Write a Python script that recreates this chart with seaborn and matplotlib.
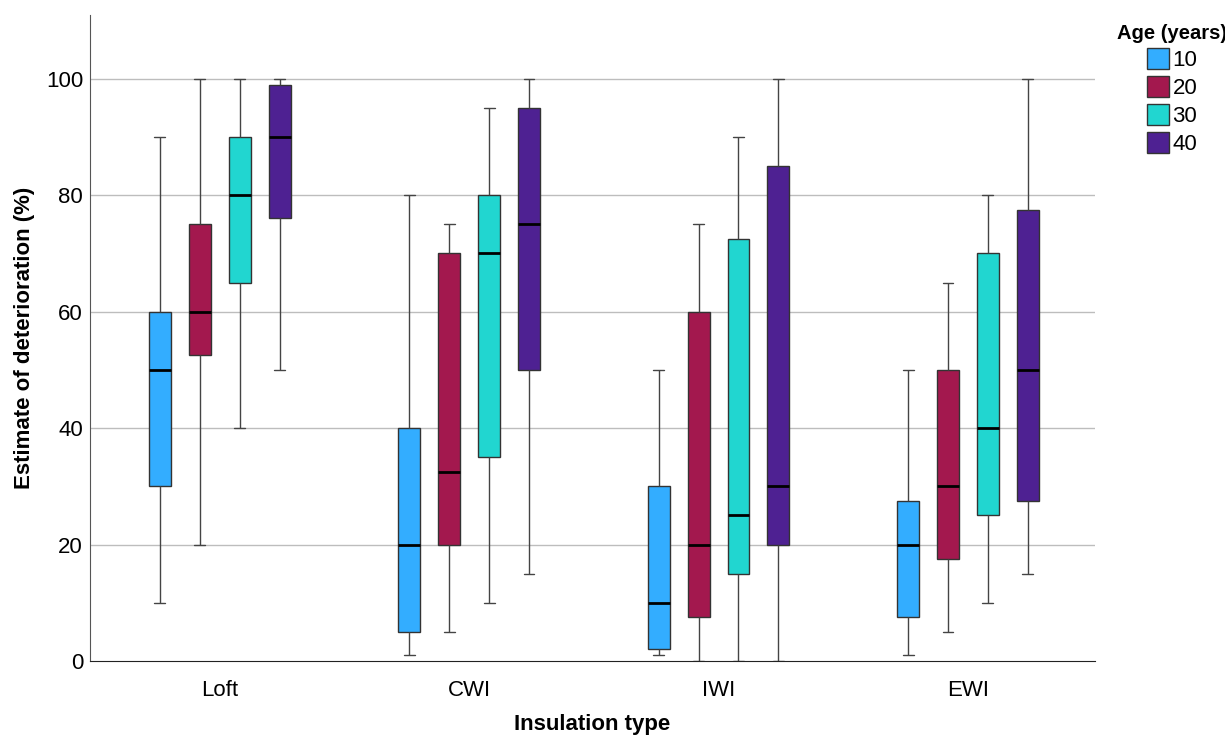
import numpy as np
import pandas as pd
import matplotlib
matplotlib.use("Agg")
import matplotlib.pyplot as plt
import seaborn as sns

# five-number summaries (min, q1, median, q3, max) per insulation type
insulation = ["Loft", "CWI", "IWI", "EWI"]
ages = ["10", "20", "30", "40"]

age10 = [[10, 30, 50, 60, 90], [1, 5, 20, 40, 80], [1, 2, 10, 30, 50], [1, 7.5, 20, 27.5, 50]]
age20 = [[20, 52.5, 60, 75, 100], [5, 20, 32.5, 70, 75], [0, 7.5, 20, 60, 75], [5, 17.5, 30, 50, 65]]
age30 = [[40, 65, 80, 90, 100], [10, 35, 70, 80, 95], [0, 15, 25, 72.5, 90], [10, 25, 40, 70, 80]]
age40 = [[50, 76, 90, 99, 100], [15, 50, 75, 95, 100], [0, 20, 30, 85, 100], [15, 27.5, 50, 77.5, 100]]

palette = ["#33adff", "#a3184e", "#21d6d0", "#4e2192"]

rows = []
for age, summaries in zip(ages, [age10, age20, age30, age40]):
    for ins, vals in zip(insulation, summaries):
        for v in vals:
            rows.append({"Insulation type": ins, "Age (years)": age, "value": v})
df = pd.DataFrame(rows)

sns.set_style("white")
plt.rcParams["font.family"] = ["Liberation Sans", "DejaVu Sans"]
plt.rcParams["text.color"] = "black"
plt.rcParams["axes.labelcolor"] = "black"
plt.rcParams["xtick.color"] = "black"
plt.rcParams["ytick.color"] = "black"

fig = plt.figure(figsize=(12.25, 7.35), dpi=100)
ax = fig.add_axes([0.0735, 0.1007, 0.8205, 0.8793])

sns.boxplot(data=df, x="Insulation type", y="value", hue="Age (years)",
            order=insulation, hue_order=ages, palette=palette,
            whis=(0, 100), width=0.64, gap=0.45, saturation=1,
            linecolor="#333333", linewidth=1.0,
            whiskerprops=dict(color="#444444", linewidth=1.0),
            capprops=dict(color="#444444", linewidth=1.0),
            medianprops=dict(color="black", linewidth=2.0),
            showfliers=False, ax=ax)

ax.set_ylim(0, 111)
ax.set_xlim(-0.52, 3.51)
ax.set_yticks([0, 20, 40, 60, 80, 100])
for y in [20, 40, 60, 80, 100]:
    ax.axhline(y, color="#bdbdbd", linewidth=1.0, zorder=0)

ax.set_xlabel("Insulation type", fontsize=16, fontweight="bold", labelpad=9)
ax.set_ylabel("Estimate of deterioration (%)", fontsize=16, fontweight="bold", labelpad=8)
ax.tick_params(axis="y", length=0, labelsize=16, pad=5)
ax.tick_params(axis="x", length=0, labelsize=16, pad=14)

sns.despine(ax=ax)
ax.spines["left"].set_color("#555555")
ax.spines["bottom"].set_color("#222222")

sns.move_legend(ax, "upper left", bbox_to_anchor=(1.002, 1.017), frameon=False,
                title="Age (years)", fontsize=16, title_fontsize=14.5,
                handlelength=1.0, handleheight=1.1, handletextpad=0.15, labelspacing=0.22)
ax.get_legend().get_title().set_fontweight("bold")

fig.savefig("out.png", dpi=100)
